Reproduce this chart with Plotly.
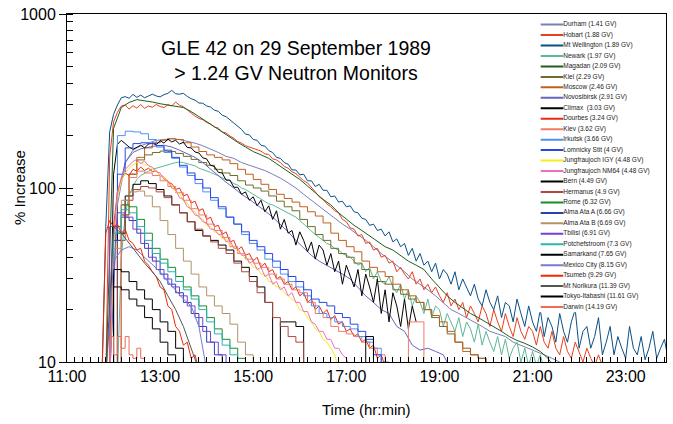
import plotly.graph_objects as go
from datetime import datetime, timedelta

DAY = "1989-09-29"
X_TICKS = ["11:00", "13:00", "15:00", "17:00", "19:00", "21:00", "23:00"]
X_RANGE = ["11:00", "23:52"]
Y_TICKS = [10, 100, 1000]

NAMES = ["Durham (1.41 GV)", "Hobart (1.88 GV)", "Mt Wellington (1.89 GV)", "Newark (1.97 GV)",
         "Magadan (2.09 GV)", "Kiel (2.29 GV)", "Moscow (2.46 GV)", "Novosibirsk (2.91 GV)",
         "Climax  (3.03 GV)", "Dourbes (3.24 GV)", "Kiev (3.62 GV)", "Irkutsk (3.66 GV)",
         "Lomnicky Stit (4 GV)", "Jungfraujoch IGY (4.48 GV)", "Jungfraujoch NM64 (4.48 GV)",
         "Bern (4.49 GV)", "Hermanus (4.9 GV)", "Rome (6.32 GV)", "Alma Ata A (6.66 GV)",
         "Alma Ata B (6.69 GV)", "Tbilisi (6.91 GV)", "Potchefstroom (7.3 GV)",
         "Samarkand (7.65 GV)", "Mexico City (8.15 GV)", "Tsumeb (9.29 GV)",
         "Mt Norikura (11.39 GV)", "Tokyo-Itabashi (11.61 GV)", "Darwin (14.19 GV)"]

# sampling start time and interval (minutes) of each series
STARTS = ["11:55", "11:50", "11:45", "12:05", "11:50", "12:00", "12:00", "11:55",
          "11:55", "11:55", "12:00", "11:55", "11:55", "11:55", "11:55",
          "11:55", "11:55", "11:50", "11:50", "11:50", "11:45", "11:50",
          "11:50", "11:50", "11:45", "11:50", "11:50", "11:50"]
STEPS = [10, 5, 5, 5, 10, 10, 10, 10, 5, 5, 10, 10, 10, 5, 5,
         10, 10, 10, 10, 10, 10, 10, 10, 10, 5, 10, 10, 5]

DURHAM = [8, 80, 140, 165, 175, 182, 188, 190, 192, 190, 186, 181,
          175, 168, 160, 152, 148, 140, 135, 130, 126, 120, 114, 107,
          100, 92, 85, 78, 72, 67, 62, 58, 54, 50, 46, 42,
          39, 36, 33, 30, 28, 26, 24, 22, 20, 19, 18, 17,
          16, 15, 14.5, 14, 13, 12.5, 12, 11.5, 11, 10.5, 10, 9]
HOBART = [8, 150, 240, 272, 296, 300, 284, 297, 288, 302, 287, 296,
          291, 302, 294, 290, 301, 296, 312, 299, 293, 281, 268, 259,
          251, 247, 238, 233, 224, 221, 210, 207, 199, 193, 185, 181,
          175, 172, 170, 166, 163, 157, 156, 147, 145, 140, 133, 130,
          124, 121, 116, 110, 107, 100, 95, 89, 86, 81, 78, 74,
          72, 66, 64, 59, 58, 53, 54, 48, 49, 44, 45, 40,
          41, 37, 38, 33, 35, 32, 30, 33, 28, 30, 26, 28,
          25, 27, 24, 22, 25, 21, 23, 20, 22, 18, 21, 19,
          17, 21, 19, 16, 20, 17, 15, 19, 16, 14, 18, 15,
          13.5, 16, 15, 12.5, 16, 13, 12, 15, 12, 11, 14, 11.5,
          10.5, 13, 11.5, 10, 12, 10.5, 9.5, 11, 9.5, 8]
MT_WELLINGTON = [8, 60, 210, 265, 300, 330, 335, 328, 345, 332, 342, 330,
                 338, 346, 338, 334, 344, 350, 364, 348, 346, 350, 336, 326,
                 320, 308, 307, 296, 292, 280, 276, 262, 257, 246, 238, 226,
                 217, 204, 202, 190, 188, 176, 174, 164, 160, 150, 148, 140,
                 137, 127, 127, 119, 120, 110, 110, 102, 105, 97, 97, 89,
                 90, 83, 84, 78, 79, 73, 72, 67, 66, 61, 62, 57,
                 58, 53, 56, 49, 51, 46, 48, 41, 45, 38, 42, 36,
                 38, 33, 37, 30, 34, 32, 28, 33, 26, 30, 27, 24,
                 28, 23, 21, 26, 22, 20, 24, 18, 22, 21, 17, 23,
                 19, 16, 21, 17, 15, 20, 14, 18, 16, 13, 19, 15,
                 13, 17, 20, 12, 15, 16, 12, 14, 18, 11, 13, 16,
                 11, 14, 12, 10.5, 16, 12, 11, 14, 10.3, 12, 15, 10.5,
                 12, 13.5, 10.2, 11.5]
NEWARK = [8, 40, 70, 90, 102, 112, 118, 122, 125, 128, 130, 133,
          135, 137, 138, 140, 141, 140, 138, 136, 134, 130, 128, 126,
          123, 120, 118, 114, 112, 110, 106, 104, 100, 98, 95, 92,
          89, 86, 84, 81, 80, 78, 76, 74, 72, 70, 68, 65,
          62, 59, 56, 54, 52, 50, 48, 47, 45, 44, 42, 41,
          40, 38, 36, 37, 33, 35, 30, 33, 29, 28, 31, 27,
          25, 28, 23, 26, 21, 24, 22, 19, 23, 18, 21, 20,
          16, 19, 17, 15, 18, 14, 17, 15.5, 13, 16.5, 12.5, 15,
          13, 11.5, 14, 11, 13.5, 10.5, 12, 13, 10, 12, 9.5, 11.5,
          9.5, 11, 9]
MAGADAN = [8, 220, 290, 310, 322, 318, 312, 305, 300, 295, 290, 275,
           258, 242, 225, 210, 195, 183, 172, 162, 155, 148, 138, 128,
           120, 112, 102, 94, 86, 80, 72, 66, 61, 57, 53, 49,
           46, 44, 41, 38, 36, 34, 30, 27, 24, 22, 20.5, 19,
           18, 17, 16, 15, 14, 13.3, 12.8, 12.2, 11.5, 10.5, 9]
KIEL = [8, 70, 120, 145, 155, 160, 163, 162, 158, 152, 146, 140,
        135, 128, 122, 118, 110, 104, 100, 96, 90, 84, 78, 74,
        66, 60, 54, 50, 45, 42, 40, 37, 34, 31, 29, 28,
        26, 24.5, 23, 22, 20, 18, 16, 14.5, 13, 12, 11, 10.5, 9]
MOSCOW = [8, 70, 120, 150, 170, 182, 188, 192, 190, 182, 172, 162,
          155, 150, 145, 138, 128, 120, 112, 105, 98, 92, 87, 83,
          78, 73, 69, 63, 55, 50, 46, 43, 38, 35, 33, 31,
          28, 26, 24, 22, 20, 18.5, 17, 15, 13, 11.5, 11, 10.5, 9]
NOVOSIBIRSK = [8, 90, 140, 160, 168, 172, 175, 176, 172, 165, 158, 150,
               140, 128, 118, 108, 100, 92, 86, 80, 74, 68, 62, 56,
               50, 45, 41, 38, 36, 34, 32, 30, 27, 24, 22, 20,
               19, 16, 15, 12.5, 11.7, 12, 11.5, 11, 9]
CLIMAX = [8, 120, 178, 188, 180, 172, 167, 171, 176, 170, 179, 181,
          177, 187, 181, 191, 184, 188, 179, 183, 171, 170, 161, 159,
          149, 147, 135, 133, 123, 122, 111, 111, 101, 101, 92, 95,
          85, 89, 79, 85, 73, 79, 66, 74, 58, 66, 55, 57,
          47, 56, 50, 43, 49, 39, 47, 44, 36, 42, 33, 38,
          28, 36, 31, 27, 34, 24, 32, 27, 22, 30, 19, 26,
          17, 25, 21, 16, 23, 15.5, 21, 17]
DOURBES = [8, 60, 95, 110, 122, 118, 128, 125, 132, 126, 130, 124,
           126, 118, 116, 108, 106, 98, 100, 90, 92, 82, 84, 74,
           76, 66, 68, 60, 61, 54, 56, 49, 50, 44, 46, 41,
           42, 38, 40, 35, 37, 33, 34, 30, 31, 28, 29, 26,
           27, 24, 25, 22, 23, 20, 21, 19, 20, 17.5, 18.5, 16.5,
           17, 15, 15.5, 14, 14.5, 13, 13.5, 12, 12.5, 10.5, 11, 9.5, 9]
KIEV = [8, 80, 115, 125, 122, 118, 110, 102, 94, 85, 76, 70,
        62, 57, 52, 46, 42, 39, 37, 35, 32, 30, 28, 26,
        25, 22, 19, 18, 16, 15, 14.5, 14, 13, 12, 11, 9,
        9, 9, 17, 17, 9]
IRKUTSK = [8, 200, 212, 210, 205, 190, 172, 160, 148, 132, 118, 106,
           95, 85, 76, 68, 62, 54, 48, 44, 39, 35, 32, 29,
           27, 24, 21, 19, 18, 17, 16, 15.5, 14, 13, 12, 10, 9]
LOMNICKY = [8, 120, 170, 180, 182, 180, 175, 165, 150, 135, 122, 112,
            100, 88, 78, 68, 62, 56, 50, 46, 42, 38, 34, 31,
            29, 26, 23, 22, 21, 19, 18, 16.5, 15, 13.5, 11, 9]
JUNG_IGY = [8, 45, 88, 110, 122, 130, 136, 140, 140, 136, 136, 128,
            126, 118, 116, 106, 104, 95, 93, 84, 82, 74, 73, 67,
            66, 61, 60, 56, 55, 51, 51, 47, 46, 43, 42, 39,
            38, 35, 35, 32, 32, 29, 29, 27, 27, 25, 24, 23,
            22, 20, 19.5, 18, 17, 15.5, 15, 13.5, 13, 12, 11, 9]
JUNG_NM64 = [8, 50, 95, 115, 128, 135, 142, 146, 138, 143, 134, 132,
             124, 122, 112, 110, 100, 98, 88, 86, 78, 76, 70, 69,
             64, 63, 58, 58, 54, 54, 49, 50, 45, 45, 41, 41,
             37, 38, 34, 35, 31, 32, 28, 29, 26, 27, 24, 25,
             22, 22, 19.5, 19.5, 17, 16.5, 15, 15, 13.5, 13.5, 12, 12,
             11, 10.5, 9]
BERN = [8, 55, 90, 105, 110, 106, 98, 90, 80, 72, 64, 57,
        53, 50, 47, 44, 38, 35, 31, 27, 22, 9, 17, 17,
        16, 9, 9, 9, 9, 9, 9, 9, 9, 14, 9]
HERMANUS = [8, 50, 85, 98, 102, 100, 95, 88, 80, 72, 64, 58,
            53, 49, 45, 42, 37, 33, 29, 25, 22, 18, 16, 14, 13, 9]
ROME = [8, 60, 80, 78, 66, 55, 45, 39, 35, 31, 27, 24, 21, 18, 15.5, 13.5, 12, 10.5, 9]
ALMA_ATA_A = [8, 50, 68, 65, 55, 45, 38, 32, 28, 25, 22, 19, 16, 13, 11, 9]
ALMA_ATA_B = [8, 45, 85, 95, 96, 90, 78, 65, 54, 45, 38, 32,
              27, 24, 21, 19, 16.5, 13, 11, 9]
TBILISI = [8, 60, 72, 68, 58, 48, 40, 34, 30, 27, 24, 21, 18, 15, 13, 11, 9]
POTCHEFSTROOM = [8, 55, 75, 72, 60, 50, 42, 37, 33, 29, 26, 23, 20, 17, 14.5, 12.5, 11, 9]
SAMARKAND = [8, 34, 33, 29, 26, 23, 20, 17, 15, 12, 9]
MEXICO_CITY = [8, 38, 44, 46, 44, 40, 36, 33, 29, 26, 23, 21, 16, 9]
TSUMEB = [8, 55, 65, 60, 62, 55, 58, 50, 48, 44, 45, 38,
          36, 33, 31, 27, 26, 21, 20, 16, 15, 12.5, 13, 10.5, 11, 9]
MT_NORIKURA = [8, 60, 55, 48, 42, 37, 33, 29, 24, 20, 16, 12, 9]
TOKYO_ITABASHI = [8, 27, 26, 23, 21, 18, 15.5, 13, 11, 9]
DARWIN = [8, 14, 11, 14, 12, 14, 11, 10.5, 12, 10.5, 9]

VALUES = [DURHAM, HOBART, MT_WELLINGTON, NEWARK, MAGADAN, KIEL, MOSCOW, NOVOSIBIRSK,
          CLIMAX, DOURBES, KIEV, IRKUTSK, LOMNICKY, JUNG_IGY, JUNG_NM64, BERN, HERMANUS,
          ROME, ALMA_ATA_A, ALMA_ATA_B, TBILISI, POTCHEFSTROOM, SAMARKAND, MEXICO_CITY,
          TSUMEB, MT_NORIKURA, TOKYO_ITABASHI, DARWIN]

COLORS = ["#7b7fb8", "#e8401f", "#0b4f86", "#5cb896", "#1e5e1e", "#6e6e2a", "#c0601c",
          "#6666c0", "#000000", "#ea2b14", "#f07c68", "#4f90f5", "#2848e6", "#f2ee1a",
          "#f06ec0", "#000000", "#b04840", "#1a8c2a", "#2a40b0", "#b09468", "#7040d8",
          "#28b4b4", "#000000", "#7a7ad0", "#f02a00", "#555555", "#000000", "#f06a55"]
SHAPES = ["linear", "linear", "linear", "linear", "linear", "hv", "hv", "linear",
          "linear", "linear", "hv", "hv", "hv", "linear", "linear", "hv", "hv",
          "hv", "hv", "hv", "hv", "hv", "hv", "linear", "linear", "linear", "hv", "hv"]

FONT = "Liberation Sans, Arial, Helvetica, sans-serif"


def when(hhmm):
    return datetime.strptime(f"{DAY} {hhmm}", "%Y-%m-%d %H:%M")


fig = go.Figure()
for name, start, step, vals, col, shp in zip(NAMES, STARTS, STEPS, VALUES, COLORS, SHAPES):
    t0 = when(start)
    xs = [t0 + timedelta(minutes=step * i) for i in range(len(vals))]
    fig.add_trace(go.Scatter(x=xs, y=vals, mode="lines", name=name,
                             line=dict(color=col, width=1, shape=shp),
                             showlegend=False, hoverinfo="skip"))

# legend drawn in its own small axes
for i, (name, col) in enumerate(zip(NAMES, COLORS)):
    fig.add_trace(go.Scatter(x=[0.036, 0.21], y=[i, i], mode="lines+text",
                             text=["", name], textposition="middle right",
                             textfont=dict(size=6.5, color="#222222", family=FONT),
                             line=dict(color=col, width=2),
                             xaxis="x2", yaxis="y2", showlegend=False, hoverinfo="skip"))

# x ticks every 10 minutes, labelled every two hours
x_start, x_end = when(X_RANGE[0]), when(X_RANGE[1])
tick_times, tick_text = [], []
t = x_start
while t <= x_end:
    tick_times.append(t)
    lab = t.strftime("%H:%M")
    tick_text.append(lab if lab in X_TICKS else "")
    t += timedelta(minutes=10)

fig.update_layout(
    width=673, height=424,
    margin=dict(l=67, r=6, t=12, b=62),
    paper_bgcolor="white", plot_bgcolor="white",
    font=dict(family=FONT, color="black", size=16),
    xaxis=dict(type="date", range=[x_start, x_end],
               tickmode="array", tickvals=tick_times, ticktext=tick_text,
               ticks="inside", ticklen=5, tickcolor="black", tickwidth=1.3,
               showline=True, mirror=True, linecolor="black", linewidth=1,
               showgrid=False, zeroline=False, tickfont=dict(size=16)),
    yaxis=dict(type="log", range=[1, 3], tickvals=Y_TICKS,
               ticktext=[str(v) for v in Y_TICKS],
               ticks="outside", ticklen=7, tickcolor="black", tickwidth=1.2,
               showline=True, mirror=True, linecolor="black", linewidth=1,
               showgrid=False, zeroline=False, tickfont=dict(size=16),
               minor=dict(dtick="D1", ticks="inside", ticklen=6, tickwidth=1.2,
                          tickcolor="black", showgrid=False)),
    xaxis2=dict(domain=[0.783, 1.0], range=[0, 1], visible=False, anchor="y2"),
    yaxis2=dict(domain=[0.1429, 0.9846], range=[len(NAMES) - 0.5, -0.5],
                visible=False, anchor="x2"),
    annotations=[
        dict(text="GLE 42 on 29 September 1989<br>> 1.24 GV Neutron Monitors",
             x=0.383, y=0.866, xref="paper", yref="paper", showarrow=False,
             xanchor="center", yanchor="middle", font=dict(size=19.5)),
        dict(text="% Increase", x=-0.08, y=0.5, xref="paper", yref="paper",
             showarrow=False, textangle=-90, xanchor="center", yanchor="middle",
             font=dict(size=15)),
        dict(text="Time (hr:min)", x=0.5, y=-0.137, xref="paper", yref="paper",
             showarrow=False, xanchor="center", yanchor="middle", font=dict(size=15)),
    ],
)

fig.write_html("out.html")
